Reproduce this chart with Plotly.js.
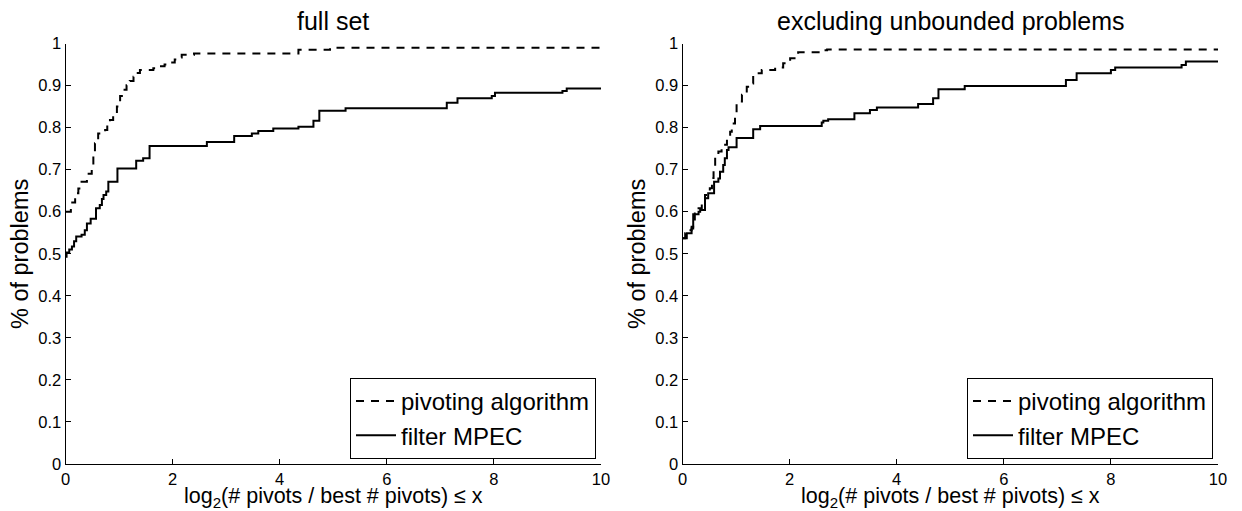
<!DOCTYPE html>
<html>
<head>
<meta charset="utf-8">
<script src="https://cdn.plot.ly/plotly-3.0.1.min.js"></script>
<style>html,body{margin:0;padding:0;background:#fff;}#chart{width:1242px;height:511px;}</style>
</head>
<body>
<div id="chart"></div>
<script>
// ---- data ----
var seriesNames = ["pivoting algorithm", "filter MPEC"];
var panelTitles = ["full set", "excluding unbounded problems"];
var xTickVals = [0, 2, 4, 6, 8, 10];

// full set: pivoting algorithm
var fullPivX = [0, 0.10, 0.18, 0.24, 0.30, 0.40, 0.49, 0.52, 0.55, 0.61, 0.74, 0.78, 0.83, 0.89, 0.96, 1.02, 1.08, 1.14, 1.20, 1.27, 1.33, 1.39, 1.64, 1.75, 1.85, 1.95, 2.04, 2.10, 2.17, 2.40, 4.35, 4.94, 10];
var fullPivY = [0.600, 0.622, 0.644, 0.655, 0.671, 0.690, 0.707, 0.735, 0.763, 0.786, 0.794, 0.806, 0.818, 0.830, 0.850, 0.875, 0.890, 0.901, 0.911, 0.921, 0.930, 0.937, 0.941, 0.946, 0.950, 0.955, 0.962, 0.967, 0.973, 0.976, 0.985, 0.990, 0.990];
// full set: filter MPEC
var fullFilX = [0, 0.02, 0.07, 0.12, 0.16, 0.20, 0.30, 0.36, 0.40, 0.47, 0.57, 0.64, 0.68, 0.71, 0.76, 0.80, 0.97, 1.32, 1.45, 1.57, 2.64, 3.15, 3.48, 3.60, 3.88, 4.35, 4.63, 4.74, 5.23, 7.12, 7.32, 7.96, 8.02, 9.28, 9.36, 10];
var fullFilY = [0.493, 0.503, 0.510, 0.517, 0.530, 0.541, 0.545, 0.556, 0.572, 0.583, 0.608, 0.616, 0.630, 0.640, 0.648, 0.671, 0.703, 0.721, 0.727, 0.756, 0.766, 0.780, 0.786, 0.792, 0.798, 0.802, 0.816, 0.840, 0.846, 0.859, 0.870, 0.875, 0.883, 0.887, 0.893, 0.893];
// excluding unbounded: pivoting algorithm
var exclPivX = [0, 0.05, 0.11, 0.17, 0.23, 0.30, 0.36, 0.42, 0.51, 0.55, 0.58, 0.61, 0.67, 0.73, 0.83, 0.89, 0.92, 0.98, 1.01, 1.11, 1.20, 1.26, 1.32, 1.48, 1.73, 1.88, 2.01, 2.16, 2.60, 2.70, 10];
var exclPivY = [0.537, 0.549, 0.556, 0.564, 0.596, 0.608, 0.624, 0.640, 0.656, 0.680, 0.699, 0.735, 0.743, 0.759, 0.778, 0.790, 0.810, 0.834, 0.862, 0.878, 0.897, 0.905, 0.929, 0.937, 0.943, 0.953, 0.965, 0.979, 0.984, 0.986, 0.986];
// excluding unbounded: filter MPEC
var exclFilX = [0, 0.08, 0.17, 0.20, 0.30, 0.33, 0.42, 0.48, 0.59, 0.67, 0.70, 0.76, 0.79, 0.83, 0.86, 1.01, 1.32, 1.45, 2.60, 2.63, 2.72, 3.21, 3.50, 3.63, 4.40, 4.68, 4.78, 5.27, 7.16, 7.36, 8.00, 8.08, 9.32, 9.40, 10];
var exclFilY = [0.537, 0.549, 0.560, 0.594, 0.600, 0.604, 0.632, 0.644, 0.671, 0.679, 0.695, 0.711, 0.727, 0.747, 0.753, 0.775, 0.796, 0.804, 0.812, 0.816, 0.820, 0.834, 0.842, 0.848, 0.856, 0.870, 0.891, 0.899, 0.913, 0.929, 0.937, 0.943, 0.949, 0.957, 0.957];

// ---- styling ----
var FONT = "Liberation Sans, Arial, Helvetica, sans-serif";
var W = 1242, H = 511;
function px2x(p) { return p / W; }
function px2y(p) { return (H - p) / H; }

var dashLine = {color: "black", width: 2, dash: "8px,7px", shape: "hv"};
var solidLine = {color: "black", width: 2, dash: "solid", shape: "hv"};

var traces = [
  {x: fullPivX, y: fullPivY, name: seriesNames[0], mode: "lines", line: dashLine, xaxis: "x", yaxis: "y", legend: "legend"},
  {x: fullFilX, y: fullFilY, name: seriesNames[1], mode: "lines", line: solidLine, xaxis: "x", yaxis: "y", legend: "legend"},
  {x: exclPivX, y: exclPivY, name: seriesNames[0], mode: "lines", line: dashLine, xaxis: "x2", yaxis: "y2", legend: "legend2"},
  {x: exclFilX, y: exclFilY, name: seriesNames[1], mode: "lines", line: solidLine, xaxis: "x2", yaxis: "y2", legend: "legend2"}
];

function xAxis(d0, d1, anchor) {
  return {domain: [d0, d1], range: [0, 10], anchor: anchor, tickvals: xTickVals,
    showgrid: false, zeroline: false, showline: true, linecolor: "black", linewidth: 1,
    ticks: "inside", ticklen: 5, tickcolor: "black", tickfont: {family: FONT, size: 16.5, color: "black"},
    fixedrange: true};
}
function yAxis(anchor) {
  return {domain: [px2y(464), px2y(43.5)], range: [0, 1], anchor: anchor, dtick: 0.1, tick0: 0,
    showgrid: false, zeroline: false, showline: true, linecolor: "black", linewidth: 1,
    ticks: "inside", ticklen: 5, tickcolor: "black", tickfont: {family: FONT, size: 16.5, color: "black"},
    fixedrange: true};
}

var legendCommon = {
  bgcolor: "white", bordercolor: "black", borderwidth: 1,
  font: {family: FONT, size: 24, color: "black"},
  xanchor: "right", yanchor: "bottom", itemwidth: 40, tracegroupgap: 0
};

var annFont = {family: FONT, color: "black"};
var annotations = [
  {text: panelTitles[0], x: px2x(333), y: px2y(21), xref: "paper", yref: "paper", xanchor: "center", yanchor: "middle", showarrow: false, font: Object.assign({size: 25}, annFont)},
  {text: panelTitles[1], x: px2x(950), y: px2y(21), xref: "paper", yref: "paper", xanchor: "center", yanchor: "middle", showarrow: false, font: Object.assign({size: 25}, annFont)},
  {text: "log<sub>2</sub>(# pivots / best # pivots) ≤ x", x: px2x(333), y: px2y(497), xref: "paper", yref: "paper", xanchor: "center", yanchor: "middle", showarrow: false, font: Object.assign({size: 21.5}, annFont)},
  {text: "log<sub>2</sub>(# pivots / best # pivots) ≤ x", x: px2x(950), y: px2y(497), xref: "paper", yref: "paper", xanchor: "center", yanchor: "middle", showarrow: false, font: Object.assign({size: 21.5}, annFont)},
  {text: "% of problems", x: px2x(20), y: px2y(254), xref: "paper", yref: "paper", xanchor: "center", yanchor: "middle", textangle: -90, showarrow: false, font: Object.assign({size: 23.5}, annFont)},
  {text: "% of problems", x: px2x(637), y: px2y(254), xref: "paper", yref: "paper", xanchor: "center", yanchor: "middle", textangle: -90, showarrow: false, font: Object.assign({size: 23.5}, annFont)}
];

var layout = {
  width: W, height: H,
  margin: {l: 0, r: 0, t: 0, b: 0},
  paper_bgcolor: "white", plot_bgcolor: "white",
  font: {family: FONT, color: "black"},
  xaxis: xAxis(px2x(65.5), px2x(601), "y"),
  yaxis: yAxis("x"),
  xaxis2: xAxis(px2x(682.5), px2x(1218), "y2"),
  yaxis2: yAxis("x2"),
  showlegend: true,
  legend: Object.assign({x: px2x(596), y: px2y(459)}, legendCommon),
  legend2: Object.assign({x: px2x(1213), y: px2y(459)}, legendCommon),
  annotations: annotations
};

Plotly.newPlot("chart", traces, layout, {displayModeBar: false, staticPlot: true});
</script>
</body>
</html>
